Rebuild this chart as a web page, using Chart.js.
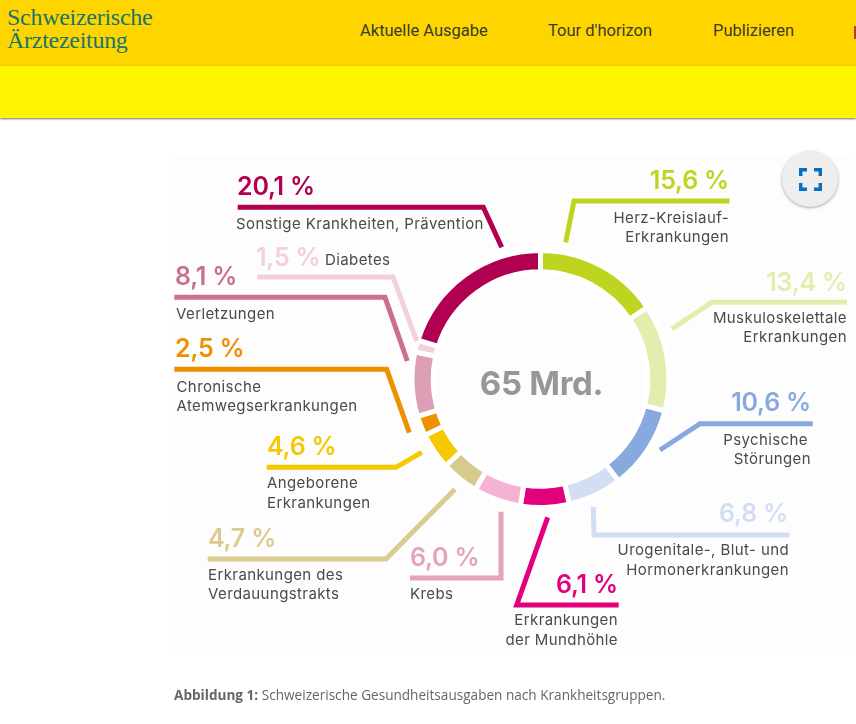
<!DOCTYPE html>
<html lang="de">
<head>
<meta charset="utf-8">
<title>Schweizerische Gesundheitsausgaben</title>
<script src="https://cdn.jsdelivr.net/npm/chart.js@4"></script>
<style>
html,body{margin:0;padding:0;background:#fff;overflow:hidden;width:856px;height:724px;}
#top{position:absolute;left:0;top:0;width:856px;height:66px;background:#ffd500;}
#band{position:absolute;left:0;top:66px;width:856px;height:52px;background:#fff500;box-shadow:0 1px 2px rgba(0,0,0,.55);}
#logo{position:absolute;left:7px;top:6px;font:24px/23px "Liberation Serif",serif;letter-spacing:-.28px;color:#17756b;}
.nav{position:absolute;top:21px;font:16.5px/20px Roboto,sans-serif;color:#3a3a2a;white-space:nowrap;}
#edge{position:absolute;left:854px;top:26px;width:2px;height:13px;background:#b5402a;}
#imgbg{position:absolute;left:175px;top:155px;width:675px;height:500px;background:#fdfdfd;}
canvas{position:absolute;left:0;top:0;}
#btn{position:absolute;left:782px;top:151px;width:56px;height:56px;border-radius:50%;background:#eeeeee;box-shadow:0 1px 3px rgba(0,0,0,.35);}
#btn svg{position:absolute;left:17px;top:17px;}
#cap{position:absolute;left:174px;top:686px;font:13.6px/18px "Open Sans",sans-serif;color:#666;white-space:nowrap;}
</style>
</head>
<body>
<div id="top"></div>
<div id="band"></div>
<div id="logo">Schweizerische<br>Ärztezeitung</div>
<div class="nav" style="left:360px">Aktuelle Ausgabe</div>
<div class="nav" style="left:548px">Tour d'horizon</div>
<div class="nav" style="left:713px">Publizieren</div>
<div id="edge"></div>
<div id="imgbg"></div>
<canvas id="c" width="856" height="724"></canvas>
<div id="btn"><svg width="23" height="23" viewBox="0 0 23 23" fill="none" stroke="#0b6fc0" stroke-width="3.5"><path d="M1.7 8V1.7H8M15 1.7h6.3V8M21.3 15v6.3H15M8 21.3H1.7V15"/></svg></div>
<div id="cap"><b>Abbildung 1:</b> Schweizerische Gesundheitsausgaben nach Krankheitsgruppen.</div>
<script>
const categories = ["Herz-Kreislauf-Erkrankungen","Muskuloskelettale Erkrankungen","Psychische Störungen","Urogenitale-, Blut- und Hormonerkrankungen","Erkrankungen der Mundhöhle","Krebs","Erkrankungen des Verdauungstrakts","Angeborene Erkrankungen","Chronische Atemwegserkrankungen","Verletzungen","Diabetes","Sonstige Krankheiten, Prävention"];
const shares = [15.6,13.4,10.6,6.8,6.1,6.0,4.7,4.6,2.5,8.1,1.5,20.1];
const arcColors = ["#bfd41e","#e2eeae","#87a9df","#d2def4","#e2007f","#f5b3d3","#d8c98f","#f5c800","#ef9000","#dd9fb6","#f2d0dc","#b0004f"];
const leadColors = ["#bfd41e","#e2eeae","#87a9df","#d2def4","#e2007f","#e3a3bd","#dccb8f","#f5c800","#ef9000","#cc6f8e","#f2d0dc","#b0004f"];
const centerLabel = "65 Mrd.";

// Callout layout, page pixels: leader polyline, value text, description lines
const callouts = [
 {line:[[729.5,201],[574,201],[565.7,242.3]], align:"right", vx:729, vy:189, lx:729, lines:[["Herz-Kreislauf-",222.7],["Erkrankungen",242]]},
 {line:[[847,302.3],[711.7,302.3],[671.7,329]], align:"right", vx:847, vy:290.7, lx:847, lines:[["Muskuloskelettale",322.7],["Erkrankungen",342]]},
 {line:[[812.7,423.7],[700,423.7],[660,450]], align:"right", vx:811, vy:410.7, lx:811, lines:[["Psychische",445,808],["Störungen",464]]},
 {line:[[789.5,535],[594,535],[593.3,506.7]], align:"right", vx:788, vy:521.7, lx:789, lines:[["Urogenitale-, Blut- und",555.3],["Hormonerkrankungen",575]]},
 {line:[[618.7,605],[516.7,605],[547.7,517.3]], align:"right", vx:618, vy:592.7, lx:618, lines:[["Erkrankungen",625.3],["der Mundhöhle",645]]},
 {line:[[410,578],[501,578],[501,511.7]], align:"left", vx:410, vy:566, lx:410, lines:[["Krebs",599]]},
 {line:[[207.7,559],[386,559],[455,489.3]], align:"left", vx:208, vy:546.7, lx:208, lines:[["Erkrankungen des",580],["Verdauungstrakts",599]]},
 {line:[[266.7,467.3],[396,467.3],[421.7,452.3]], align:"left", vx:267, vy:455, lx:267, lines:[["Angeborene",488],["Erkrankungen",508]]},
 {line:[[174.3,369.3],[386.7,369.3],[409.3,432.7]], align:"left", vx:175, vy:356.7, lx:176.5, lines:[["Chronische",391.7],["Atemwegserkrankungen",410.7]]},
 {line:[[174.3,297.3],[385,297.3],[407.3,361]], align:"left", vx:175, vy:285, lx:176, lines:[["Verletzungen",319]]},
 {line:[[257.3,277],[393,277],[416.7,341]], align:"left", vx:256, vy:265.7, lx:325, lines:[["Diabetes",265]]},
 {line:[[237.7,207.3],[483.3,207.3],[501.7,247.3]], align:"left", vx:237, vy:195, lx:236, lines:[["Sonstige Krankheiten, Prävention",229]]}
];

const calloutPlugin = {
  id:"callouts",
  afterDraw(chart){
    const ctx = chart.ctx;
    ctx.save();
    ctx.textBaseline = "alphabetic";
    callouts.forEach((c,i)=>{
      ctx.strokeStyle = leadColors[i];
      ctx.lineWidth = 5;
      ctx.lineJoin = "miter";
      ctx.lineCap = "butt";
      ctx.beginPath();
      c.line.forEach((p,k)=> k ? ctx.lineTo(p[0],p[1]) : ctx.moveTo(p[0],p[1]));
      ctx.stroke();
      ctx.textAlign = c.align;
      ctx.fillStyle = leadColors[i];
      ctx.font = "600 25px Inter, sans-serif";
      ctx.letterSpacing = "-0.2px";
      ctx.fillText(shares[i].toFixed(1).replace(".",",")+" %", c.vx, c.vy);
      ctx.fillStyle = "#4a4a4a";
      ctx.font = "15px Inter, sans-serif";
      ctx.letterSpacing = "0.4px";
      c.lines.forEach(l=> ctx.fillText(l[0], l[2]||c.lx, l[1]));
    });
    const a = chart.getDatasetMeta(0).data[0];
    ctx.letterSpacing = "-0.3px";
    ctx.textAlign = "center";
    ctx.fillStyle = "#97979b";
    ctx.font = "700 33px Inter, sans-serif";
    ctx.fillText(centerLabel, a.x+1, a.y+16);
    ctx.restore();
  }
};

new Chart(document.getElementById("c"),{
  type:"doughnut",
  data:{labels:categories,datasets:[{data:shares,backgroundColor:arcColors,borderColor:"#ffffff",borderWidth:5}]},
  options:{
    responsive:false,
    animation:false,
    cutout:"83.5%",
    layout:{padding:{left:409,right:184,top:248,bottom:214}},
    plugins:{legend:{display:false},tooltip:{enabled:false}}
  },
  plugins:[calloutPlugin]
});
</script>
</body>
</html>
